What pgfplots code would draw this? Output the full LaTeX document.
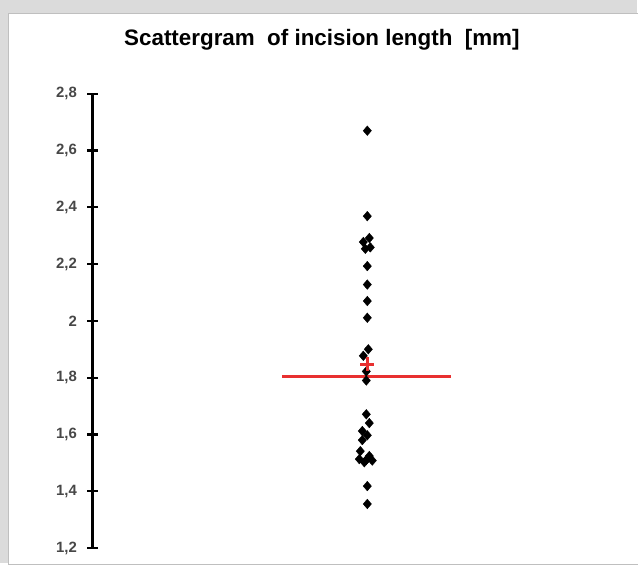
\documentclass[border=0pt]{standalone}
\usepackage{pgfplots}
\pgfplotsset{compat=1.18}
\usepackage{fontspec}
\setmainfont{Liberation Sans}
\definecolor{meanred}{RGB}{232,48,48}
\begin{document}
\begin{tikzpicture}
% frame of the screenshot
\fill[black!14] (-93bp,-15bp) rectangle (545bp,549bp);
\fill[white, draw=black!25] (-85bp,-16bp) rectangle (546bp,536bp);
\useasboundingbox (-93bp,-15bp) rectangle (545bp,549bp);
\begin{axis}[
    at={(0,0)}, anchor=origin,
    scale only axis,
    width=500bp, height=455bp,
    xmin=0, xmax=500,
    ymin=1.2, ymax=2.8,
    axis x line=none,
    axis y line*=left,
    y axis line style={line width=3.2bp, -},
    ytick={1.2,1.4,...,2.8},
    major tick length=11bp,
    tick align=center,
    ytick style={line width=2.2bp, black},
    yticklabel style={
        /pgf/number format/use comma,
        /pgf/number format/fixed,
        /pgf/number format/precision=1,
        /pgf/number format/assume math mode=true,
        font=\bfseries\fontsize{15}{15}\selectfont,
        text=black!72, xshift=-7bp},
    clip=false,
]
\addplot[only marks, mark=diamond*, mark size=4.8bp, mark options={xscale=1.15}, black] coordinates {
    (275,2.670)
    (275,2.369)
    (277,2.292) (271,2.278) (273,2.254) (278,2.259)
    (275,2.193) (275,2.128) (275,2.070) (275,2.011)
    (276,1.900) (271,1.877) (274,1.822) (274,1.790)
    (274,1.671) (277,1.640) (270,1.612) (275,1.597) (270,1.580)
    (268,1.541) (277,1.524) (267,1.513) (274,1.510) (280,1.508) (272,1.502)
    (275,1.418) (275,1.355)
};
\addplot[meanred, line width=3bp] coordinates {(190,1.805) (359,1.805)};
\addplot[only marks, mark=+, mark size=7bp, meanred, mark options={line width=2.5bp}]
    coordinates {(275,1.847)};
\end{axis}
\node[font=\bfseries\fontsize{22.5}{22.5}\selectfont] at (229.5bp,509bp)
    {Scattergram\ \ of incision length\ \ [mm]};
\end{tikzpicture}
\end{document}
